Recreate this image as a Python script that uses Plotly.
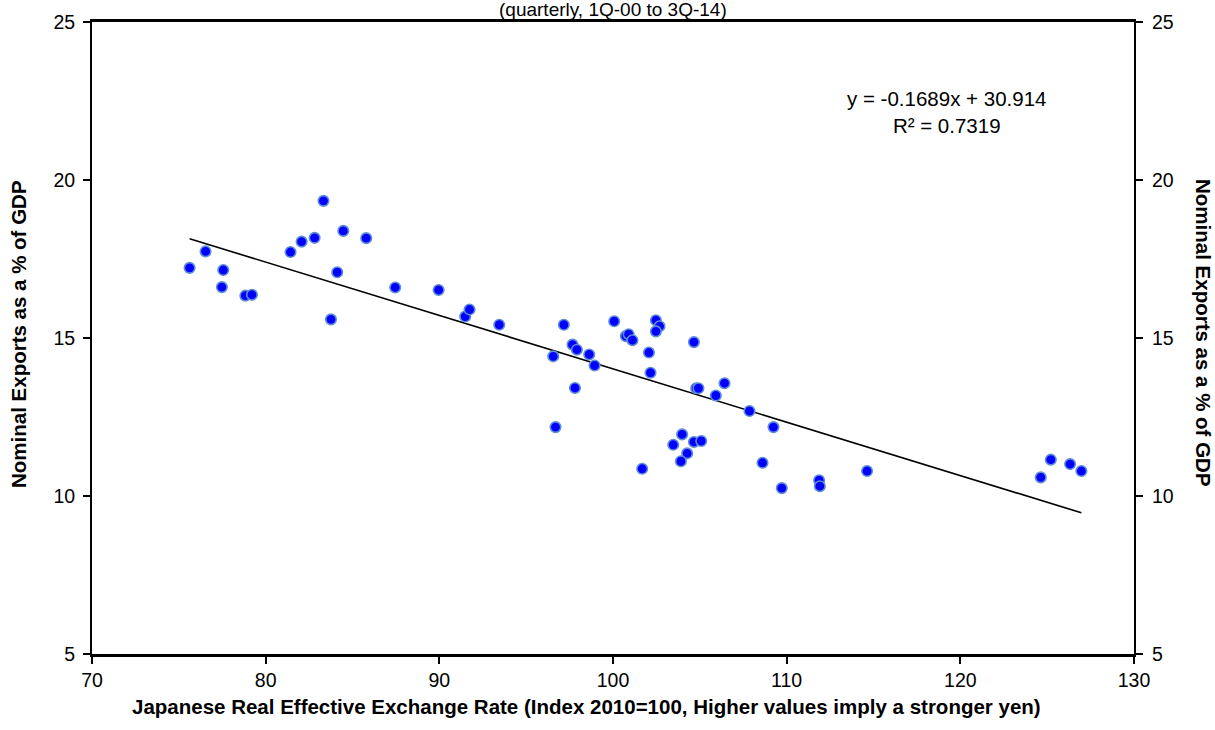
import plotly.graph_objects as go

# Japanese real effective exchange rate (index, 2010=100), quarterly 1Q-00 to 3Q-14
reer = [
    75.62, 76.54, 77.56, 77.48, 78.83, 79.21, 81.43, 82.07, 82.82, 83.33,
    83.76, 84.12, 84.47, 85.79, 87.46, 89.96, 91.49, 91.74, 93.45,
    97.17, 96.56, 96.69, 97.67, 97.92, 97.81, 98.63, 98.94,
    100.07, 100.74, 100.90, 101.12, 102.47, 102.68, 102.47, 102.07, 102.16, 101.68,
    104.66, 104.79, 104.92, 105.92, 106.42, 107.86, 109.24,
    103.98, 103.47, 104.66, 105.08, 104.27, 103.91, 108.61, 109.72,
    111.87, 111.91, 114.63,
    124.63, 125.21, 126.32, 126.97,
]

# Nominal exports as a share of GDP (%)
exports_gdp = [
    17.22, 17.74, 17.15, 16.61, 16.34, 16.37, 17.72, 18.05, 18.17, 19.34,
    15.59, 17.08, 18.39, 18.16, 16.60, 16.52, 15.68, 15.90, 15.42,
    15.42, 14.42, 12.18, 14.79, 14.63, 13.42, 14.48, 14.13,
    15.53, 15.06, 15.12, 14.93, 15.56, 15.37, 15.21, 14.54, 13.90, 10.86,
    14.87, 13.41, 13.41, 13.18, 13.57, 12.69, 12.18,
    11.95, 11.62, 11.71, 11.74, 11.35, 11.10, 11.05, 10.25,
    10.50, 10.31, 10.79,
    10.59, 11.15, 11.01, 10.79,
]

# Linear trend reported on the chart
slope = -0.1689
intercept = 30.914
r_squared = 0.7319

x_ticks = [70, 80, 90, 100, 110, 120, 130]
y_ticks = [5, 10, 15, 20, 25]

FONT = "Liberation Sans, Arial, sans-serif"

trend_x = [min(reer), max(reer)]
trend_y = [slope * v + intercept for v in trend_x]

fig = go.Figure()

fig.add_trace(go.Scatter(
    x=trend_x, y=trend_y, mode="lines",
    line=dict(color="black", width=1.6),
    showlegend=False, hoverinfo="skip",
))

fig.add_trace(go.Scatter(
    x=reer, y=exports_gdp, mode="markers",
    marker=dict(color="#0000FF", size=10.5,
                line=dict(color="#5E8ED6", width=1.6)),
    showlegend=False,
))

# invisible trace to carry the mirrored right-hand axis
fig.add_trace(go.Scatter(
    x=[x_ticks[0]], y=[y_ticks[0]], yaxis="y2", mode="markers",
    marker=dict(opacity=0), showlegend=False, hoverinfo="skip",
))

tick_font = dict(family=FONT, size=19.5, color="black")
title_font = dict(family=FONT, size=20.5, color="black")

fig.update_layout(
    width=1215, height=730,
    margin=dict(l=92, r=81, t=22, b=76),
    paper_bgcolor="white", plot_bgcolor="white",
    xaxis=dict(
        range=[70, 130], tickvals=x_ticks, ticks="outside", ticklen=7,
        tickwidth=1.5, tickcolor="black",
        showline=True, linecolor="black", linewidth=2.5, mirror=True,
        showgrid=False, zeroline=False, tickfont=tick_font,
        ticklabelstandoff=0,
    ),
    yaxis=dict(
        range=[5, 25], tickvals=y_ticks, ticks="outside", ticklen=7,
        tickwidth=1.5, tickcolor="black",
        showline=True, linecolor="black", linewidth=2,
        showgrid=False, zeroline=False, tickfont=tick_font,
        ticklabelstandoff=4,
    ),
    yaxis2=dict(
        range=[5, 25], tickvals=y_ticks, ticks="outside", ticklen=7,
        tickwidth=1.5, tickcolor="black", overlaying="y", side="right",
        showline=True, linecolor="black", linewidth=2,
        showgrid=False, zeroline=False, tickfont=tick_font,
        ticklabelstandoff=5,
    ),
)

annotations = [
    dict(text="(quarterly, 1Q-00 to 3Q-14)", x=613, y=-3, yanchor="top",
         showarrow=False, font=dict(family=FONT, size=19, color="black")),
    dict(text=f"y = {slope}x + {intercept}<br>R² = {r_squared}",
         x=946, y=112, showarrow=False, align="center",
         font=dict(family=FONT, size=20.5, color="black")),
    dict(text="<b>Japanese Real Effective Exchange Rate (Index 2010=100, Higher values imply a stronger yen)</b>",
         x=586, y=706, showarrow=False, font=title_font),
    dict(text="<b>Nominal Exports as a % of GDP</b>", x=18, y=334,
         textangle=-90, showarrow=False, font=title_font),
    dict(text="<b>Nominal Exports as a % of GDP</b>", x=1204, y=333,
         textangle=90, showarrow=False, font=title_font),
]

# convert pixel placements into paper coordinates of the plot area
px_l, px_r, px_t, px_b = 92, 1134, 22, 654
for a in annotations:
    a["x"] = (a["x"] - px_l) / (px_r - px_l)
    a["y"] = (px_b - a["y"]) / (px_b - px_t)
    a["xref"] = "paper"
    a["yref"] = "paper"
    a["xanchor"] = "center"
    a.setdefault("yanchor", "middle")

fig.update_layout(annotations=annotations)

fig.write_html("out.html")
